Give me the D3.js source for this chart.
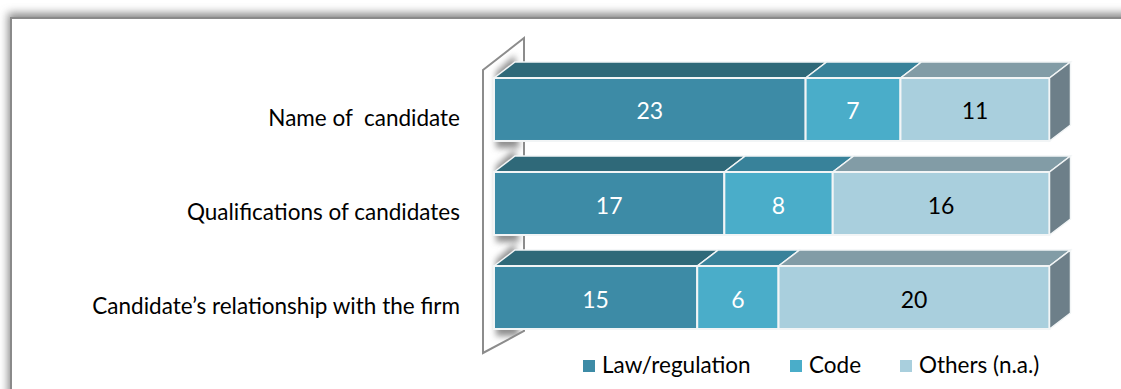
<!DOCTYPE html>
<html>
<head>
<meta charset="utf-8">
<script src="https://cdn.jsdelivr.net/npm/d3@7"></script>
<style>
  html, body { margin: 0; padding: 0; background: #fff; overflow: hidden; }
  text { font-family: Lato, "Open Sans", sans-serif; font-weight: 400; }
</style>
</head>
<body>
<svg id="svg" width="1121" height="389"></svg>
<script>
const categories = ['Name of  candidate', 'Qualifications of candidates', 'Candidate\u2019s relationship with the firm'];
const seriesNames = ['Law/regulation', 'Code', 'Others (n.a.)'];
const lawValues = [23, 17, 15];
const codeValues = [7, 8, 6];
const otherValues = [11, 16, 20];

const frontColors = ['#3d8ba6', '#4aadc9', '#a9cfdd'];
const topColors = ['#2f6979', '#38829a', '#829ca6'];
const labelColors = ['#fff', '#fff', '#000'];
const sideColor = '#6d7f89';

const depthX = 21;
const depthY = 16;

const svg = d3.select('#svg');
const defs = svg.append('defs');

defs.append('filter').attr('id', 'blur').
attr('x', '-10%').attr('y', '-10%').attr('width', '120%').attr('height', '120%').
append('feGaussianBlur').attr('stdDeviation', 4);

defs.append('filter').attr('id', 'soft').
attr('x', '-50%').attr('y', '-50%').attr('width', '200%').attr('height', '200%').
append('feGaussianBlur').attr('stdDeviation', 3);

// frame with its shadow, runs off the right and bottom of the picture
svg.append('rect').attr('x', 8).attr('y', 13).attr('width', 1200).attr('height', 500).
attr('fill', '#8a8a8a').attr('filter', 'url(#blur)');
svg.append('rect').attr('x', 11).attr('y', 18).attr('width', 1200).attr('height', 500).
attr('fill', '#fff').attr('stroke', '#8a8a8a').attr('stroke-width', 2);

const x = d3.scaleLinear().domain([0, 41]).range([494, 1049.5]);
const y = d3.scaleBand().domain(categories).range([78, 329]).paddingInner(0.33);

const stack = d3.stack().keys(seriesNames).value((d, key) => d[key]);
const rows = categories.map((c, i) => ({
  category: c,
  [seriesNames[0]]: lawValues[i],
  [seriesNames[1]]: codeValues[i],
  [seriesNames[2]]: otherValues[i]
}));
const stacked = stack(rows);

const polyLine = d3.line();

// back wall
const wallLeft = x(0) - 11;
const wallRight = x(0) + 30;
const wallTop = y(categories[0]) - 8;
const wallBottom = y(categories[2]) + y.bandwidth() + 24;
const wallPoints = [[wallLeft, wallTop], [wallRight, wallTop - 32], [wallRight, wallBottom - 22], [wallLeft, wallBottom]];

defs.append('clipPath').attr('id', 'wallClip').
append('path').attr('d', polyLine(wallPoints) + 'Z');

svg.append('path').attr('d', polyLine(wallPoints) + 'Z').
attr('fill', '#fff').attr('stroke', '#8c8c8c').attr('stroke-width', 2);

// soft shading on the wall next to each bar
const wallShade = svg.append('g').attr('clip-path', 'url(#wallClip)');
wallShade.selectAll('path').
data(categories).
enter().
append('path').
attr('d', d => polyLine([
[x(0) + 2, y(d) + y.bandwidth() + 7],
[x(0) + 2, y(d) - 6],
[x(0) + depthX, y(d) - depthY - 7],
[x(0) + depthX + 4, y(d) + y.bandwidth() + 7]]) + 'Z').
attr('fill', '#8f8f8f').
attr('filter', 'url(#soft)');

// top and side faces
const barGroups = svg.selectAll('g.bar').
data(stacked).
enter().
append('g').
attr('class', 'bar');

barGroups.each(function (series, s) {
  const g = d3.select(this);

  g.selectAll('path.top').
  data(series).
  enter().
  append('path').
  attr('class', 'top').
  attr('d', d => polyLine([
  [x(d[0]), y(d.data.category)],
  [x(d[0]) + depthX, y(d.data.category) - depthY],
  [x(d[1]) + depthX, y(d.data.category) - depthY],
  [x(d[1]), y(d.data.category)]]) + 'Z').
  attr('fill', topColors[s]).
  attr('stroke', '#f2f5f6').
  attr('stroke-width', 1.5);

  g.selectAll('rect').
  data(series).
  enter().
  append('rect').
  attr('x', d => x(d[0])).
  attr('y', d => y(d.data.category)).
  attr('width', d => x(d[1]) - x(d[0])).
  attr('height', y.bandwidth()).
  attr('fill', frontColors[s]).
  attr('stroke', '#f2f5f6').
  attr('stroke-width', 2);

  g.selectAll('text').
  data(series).
  enter().
  append('text').
  attr('x', d => (x(d[0]) + x(d[1])) / 2).
  attr('y', d => y(d.data.category) + y.bandwidth() / 2 + 10).
  attr('text-anchor', 'middle').
  attr('font-size', 23).
  attr('fill', labelColors[s]).
  text(d => d[1] - d[0]);
});

svg.selectAll('path.side').
data(categories).
enter().
append('path').
attr('class', 'side').
attr('d', d => polyLine([
[x(41), y(d)],
[x(41) + depthX, y(d) - depthY],
[x(41) + depthX, y(d) + y.bandwidth() - depthY],
[x(41), y(d) + y.bandwidth()]]) + 'Z').
attr('fill', sideColor).
attr('stroke', '#f2f5f6').
attr('stroke-width', 1.5);

// category labels
svg.selectAll('text.cat').
data(categories).
enter().
append('text').
attr('class', 'cat').
attr('x', 460).
attr('y', d => y(d) + y.bandwidth() / 2 + 16.5).
attr('text-anchor', 'end').
attr('font-size', 22.5).
attr('fill', '#000').
attr('xml:space', 'preserve').
style('white-space', 'pre').
text(d => d);

// legend
const legendX = d3.scaleOrdinal().domain(seriesNames).range([583, 790, 900]);
const legend = svg.selectAll('g.legend').
data(seriesNames).
enter().
append('g').
attr('class', 'legend').
attr('transform', d => `translate(${legendX(d)},360)`);

legend.append('rect').
attr('width', 12).
attr('height', 12).
attr('fill', (d, i) => frontColors[i]);

legend.append('text').
attr('x', 19).
attr('y', 13).
attr('font-size', 22.5).
attr('fill', '#000').
text(d => d);
</script>
</body>
</html>
